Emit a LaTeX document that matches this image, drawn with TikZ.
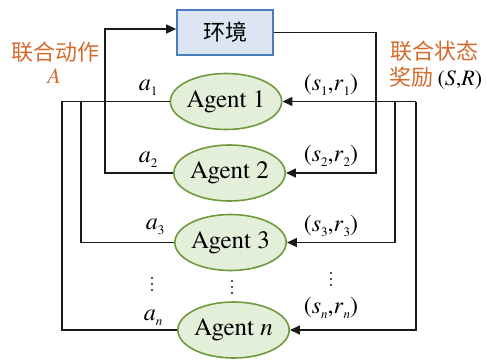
\documentclass[tikz,border=0pt]{standalone}
\usepackage{fontspec}
\setmainfont{TeX Gyre Termes}
\newfontfamily\lserif{TeX Gyre Termes}
\newfontfamily\cjk{Noto Sans CJK SC}
\usetikzlibrary{shapes.geometric,arrows.meta,calc}
\definecolor{lblorange}{HTML}{D46A2C}
\definecolor{envfill}{HTML}{DCE6F2}
\definecolor{envedge}{HTML}{4A7EBB}
\definecolor{agfill}{HTML}{E3EFD9}
\definecolor{agedge}{HTML}{6E9A3C}
\definecolor{linegray}{HTML}{1A1A1A}
\newcommand{\subx}[2]{\textit{#1}\raisebox{-0.45ex}{\fontsize{13}{14}\selectfont #2}}
\begin{document}
\begin{tikzpicture}[x=1pt,y=-1pt,
  envbox/.style={rectangle, draw=envedge, fill=envfill, line width=1.6pt,
    minimum width=96pt, minimum height=45pt, inner sep=0pt,
    font=\cjk\fontsize{22}{24}\selectfont},
  agentnode/.style={ellipse, draw=agedge, fill=agfill, line width=1.6pt,
    minimum width=98pt, minimum height=56pt, inner sep=0pt,
    font=\lserif\fontsize{25}{28}\selectfont},
  conn/.style={draw=linegray, line width=1.4pt},
  arr/.style={-{Triangle[length=10pt,width=9pt]}},
  mathlbl/.style={inner sep=0pt, font=\lserif\fontsize{24}{26}\selectfont},
  cnlbl/.style={inner sep=0pt, text=lblorange, font=\cjk\fontsize{22}{24}\selectfont},
  dotmark/.style={fill=linegray}
]
\useasboundingbox (0,0) rectangle (486,359);

% nodes
\node[envbox] (env) at (225,32.5) {环境};
\node[agentnode] (ag1) at (226,101.5) {Agent 1};
\node[agentnode] (ag2) at (229.5,173) {Agent 2};
\node[agentnode] (ag3) at (230.5,242.5) {Agent 3};
\node[agentnode] (agn) at (233.5,330) {Agent \textit{n}};

% x positions of vertical runs
\coordinate (xa2) at (105,0);
\coordinate (xL1) at (62,0);
\coordinate (xL2) at (81,0);
\coordinate (xE) at (376,0);
\coordinate (xR1) at (395,0);
\coordinate (xR2) at (416,0);

% joint action to environment
\draw[conn,arr] (ag2.west) -- (ag2.west -| xa2) |- ($(env.west)+(0,-3.5)$);
% environment to agent 2
\draw[conn,arr] (env.east) -| (xE |- ag2.east) -- (ag2.east);
% left side
\draw[conn] (ag1.west) -- (ag1.west -| xL1) |- (agn.west);
\draw[conn] (ag1.west -| xL2) |- (ag3.west);
% right side
\draw[conn,arr] (ag1.east -| xR2) -- (ag1.east);
\draw[conn,arr] (ag1.east -| xR2) |- (agn.east);
\draw[conn,arr] (ag1.east -| xR1) |- (ag3.east);

% labels
\node[cnlbl] (lA1) at (55,52) {联合动作};
\node[cnlbl, font=\lserif\fontsize{22}{24}\selectfont] (lA2) at (54,76) {\textit{A}};
\node[cnlbl] (lS1) at (434,51) {联合状态};
\node[cnlbl] (lS2) at (436,78) {奖励\,{\color{black}\lserif(\textit{S},\textit{R})}};

\node[mathlbl] (a1) at (148,88) {\subx{a}{1}};
\node[mathlbl] (a2) at (148,160) {\subx{a}{2}};
\node[mathlbl] (a3) at (155,227) {\subx{a}{3}};
\node[mathlbl] (an) at (153,318) {\subx{a}{\textit{n}}};

\node[mathlbl] (sr1) at (331,85) {(\subx{s}{1},\subx{r}{1})};
\node[mathlbl] (sr2) at (331,156) {(\subx{s}{2},\subx{r}{2})};
\node[mathlbl] (sr3) at (331,226) {(\subx{s}{3},\subx{r}{3})};
\node[mathlbl] (srn) at (331,308) {(\subx{s}{\textit{n}},\subx{r}{\textit{n}})};

% vertical ellipses
\foreach \cx/\cy in {152/284, 232/287, 331/279}{
  \foreach \k in {-6,0,6}{
    \fill[dotmark] (\cx,\cy+\k) circle (1.2pt);
  }
}
\end{tikzpicture}
\end{document}
